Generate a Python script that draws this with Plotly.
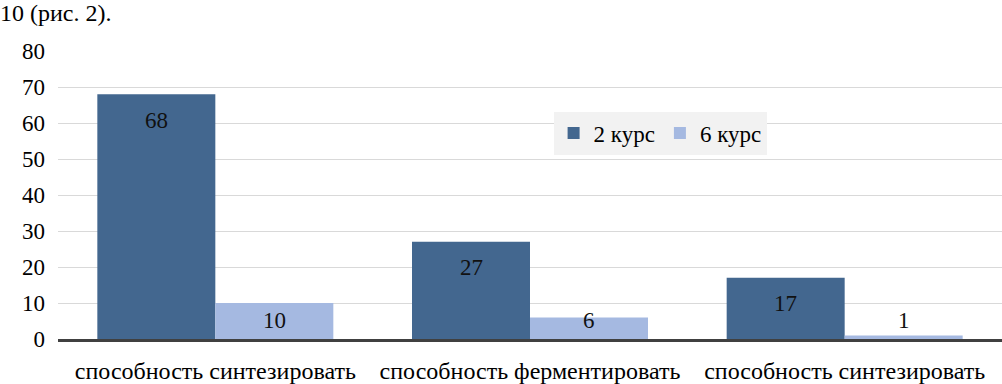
import plotly.graph_objects as go

categories = ["способность синтезировать", "способность ферментировать", "способность синтезировать"]
series_names = ["2 курс", "6 курс"]
values_2 = [68, 27, 17]
values_6 = [10, 6, 1]
y_ticks = [0, 10, 20, 30, 40, 50, 60, 70, 80]
caption = "10 (рис. 2)."

c_dark = "#43678F"
c_light = "#A5B9E1"
serif = "Liberation Serif"

xs = list(range(len(categories)))
fig = go.Figure()
fig.add_trace(go.Bar(x=xs, y=values_2, name=series_names[0], marker_color=c_dark, marker_line_width=0))
fig.add_trace(go.Bar(x=xs, y=values_6, name=series_names[1], marker_color=c_light, marker_line_width=0))

half = 0.75 / 4
for i, v in enumerate(values_2):
    fig.add_annotation(x=i - half, y=v, yshift=-26, text=str(v), showarrow=False,
                       font=dict(family=serif, size=23, color="#111"), yanchor="middle")
for i, v in enumerate(values_6):
    fig.add_annotation(x=i + half, y=max(v / 2, 5.2), text=str(v), showarrow=False,
                       font=dict(family=serif, size=23, color="#111"), yanchor="middle")

fig.add_annotation(xref="paper", yref="paper", x=0, y=1, xanchor="left", yanchor="middle",
                   xshift=-60, yshift=38, text=caption, showarrow=False,
                   font=dict(family=serif, size=24, color="#000"))

fig.update_layout(
    width=1002, height=384,
    margin=dict(l=58, r=0, t=51, b=43),
    paper_bgcolor="white", plot_bgcolor="white",
    barmode="group", bargap=0.25, bargroupgap=0,
    font=dict(family=serif, size=22, color="#000"),
    showlegend=True,
    legend=dict(orientation="h", x=0.525, y=0.715, xanchor="left", yanchor="middle",
                bgcolor="#F2F2F2", font=dict(family=serif, size=23, color="#000"),
                traceorder="normal"),
)
fig.update_xaxes(range=[-0.5, 2.5], tickmode="array", tickvals=xs, ticktext=categories,
                 showline=True, linewidth=3, linecolor="#404040", showgrid=False,
                 ticks="", ticklabelstandoff=8, tickfont=dict(family=serif, size=24), zeroline=False)
fig.update_yaxes(range=[0, 80], tickmode="array", tickvals=y_ticks, showgrid=True,
                 gridcolor="#D9D9D9", gridwidth=1, zeroline=False, showline=False,
                 ticks="", ticklabelstandoff=12, tickfont=dict(family=serif, size=23))

fig.write_html("out.html", config={"displayModeBar": False},
               post_script="document.body.style.margin='0';document.body.style.padding='0';")
